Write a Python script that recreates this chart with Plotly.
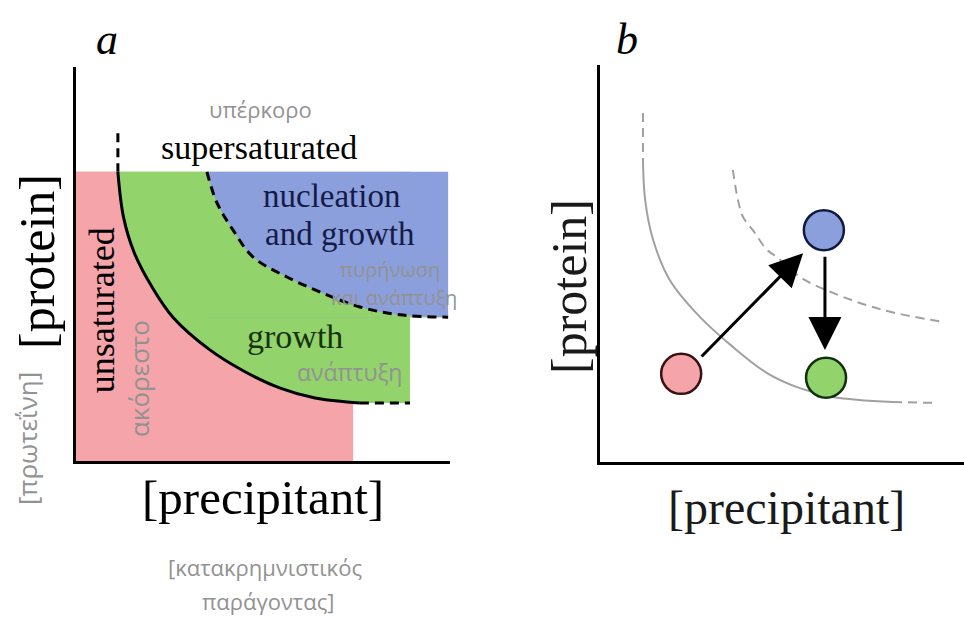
import plotly.graph_objects as go

# ---------------- Panel a data (arbitrary concentration units 0-100) ----------------
unsat_right = 74.1          # right edge of the unsaturated (pink) block
region_top = 73.4           # top of the coloured regions
growth_right = 89.3         # right edge of the growth (green) block
nuc_right = 99.5            # right edge of the nucleation (blue) block

# solubility curve (solid)
sol_x = [11.2, 12.7, 15.6, 20.3, 25.9, 35.8, 45.3, 54.6, 63.9, 72.5, 75.9]
sol_y = [73.4, 61.9, 52.8, 44.2, 36.5, 28.2, 22.6, 18.5, 16.0, 15.0, 14.7]
sol_top_x = [11.2, 11.2]
sol_top_y = [83.2, 73.4]
sol_end_x = [75.9, 89.3]
sol_end_y = [14.7, 14.7]

# nucleation boundary (dashed)
nuc_x = [35.0, 37.7, 42.0, 47.3, 56.4, 66.0, 75.9, 86.6, 99.5]
nuc_y = [73.4, 65.5, 58.6, 51.8, 46.7, 42.6, 39.1, 37.1, 36.5]

# ---------------- Panel b data ----------------
b_sol_x = [11.8, 12.4, 14.6, 19.2, 27.5, 36.5, 45.9, 54.9, 64.0, 80.5]
b_sol_y = [76.6, 66.0, 55.9, 45.8, 36.5, 29.0, 22.4, 18.6, 16.4, 15.1]
b_sol_top_x = [11.8, 11.8]
b_sol_top_y = [87.9, 76.6]
b_sol_end_x = [80.5, 91.2]
b_sol_end_y = [15.1, 14.9]

b_nuc_x = [36.5, 37.9, 39.3, 42.0, 45.9, 48.6, 54.9, 64.0, 77.7, 94.2]
b_nuc_y = [73.6, 66.0, 61.7, 58.4, 53.4, 51.6, 46.6, 42.6, 38.3, 35.3]

state_names = ["unsaturated", "nucleation", "growth"]
state_x = [22.3, 61.5, 62.1]
state_y = [22.2, 58.4, 21.2]

arrow_from_x = [27.5, 61.8]
arrow_from_y = [26.2, 52.1]
arrow_to_x = [55.8, 61.8]
arrow_to_y = [52.6, 28.2]

PINK = "#f5a4aa"
GREEN = "#93d36c"
BLUE = "#8b9fdc"
GREYTXT = "#929292"
SERIF = "Liberation Serif"
SANS = "Open Sans"

fig = go.Figure()


def poly(xs, ys, color, ax="x", ay="y"):
    fig.add_trace(go.Scatter(x=xs, y=ys, fill="toself", fillcolor=color,
                             line=dict(width=0), mode="lines", hoverinfo="skip",
                             xaxis=ax, yaxis=ay))


# Panel a regions
poly([sol_x[0], growth_right, growth_right, sol_x[0]],
     [sol_y[-1], sol_y[-1], region_top, region_top], GREEN)
poly([nuc_x[0], nuc_right, nuc_right, nuc_x[0]],
     [nuc_y[-1], nuc_y[-1], region_top, region_top], BLUE)
fig.add_trace(go.Scatter(x=nuc_x, y=nuc_y, mode="lines", fill="tozerox", fillcolor=GREEN,
                         line=dict(width=0, shape="spline"), hoverinfo="skip",
                         xaxis="x", yaxis="y"))
fig.add_trace(go.Scatter(x=sol_x, y=sol_y, mode="lines", fill="tozerox", fillcolor=PINK,
                         line=dict(width=0, shape="spline"), hoverinfo="skip",
                         xaxis="x", yaxis="y"))
poly([0, unsat_right, unsat_right, 0], [0, 0, sol_y[-1], sol_y[-1]], PINK)

# Panel a boundaries
fig.add_trace(go.Scatter(x=sol_x, y=sol_y, mode="lines",
                         line=dict(color="black", width=3, shape="spline"),
                         xaxis="x", yaxis="y"))
for xs, ys in [(sol_top_x, sol_top_y), (sol_end_x, sol_end_y)]:
    fig.add_trace(go.Scatter(x=xs, y=ys, mode="lines",
                             line=dict(color="black", width=3, dash="9px,6px"),
                             xaxis="x", yaxis="y"))
fig.add_trace(go.Scatter(x=nuc_x, y=nuc_y, mode="lines",
                         line=dict(color="black", width=3, dash="9px,6px", shape="spline"),
                         xaxis="x", yaxis="y"))

# Panel b curves
GREYLINE = "#a0a0a0"
fig.add_trace(go.Scatter(x=b_sol_x, y=b_sol_y, mode="lines",
                         line=dict(color=GREYLINE, width=2, shape="spline"),
                         xaxis="x2", yaxis="y2"))
for xs, ys in [(b_sol_top_x, b_sol_top_y), (b_sol_end_x, b_sol_end_y)]:
    fig.add_trace(go.Scatter(x=xs, y=ys, mode="lines",
                             line=dict(color=GREYLINE, width=2, dash="9px,6px"),
                             xaxis="x2", yaxis="y2"))
fig.add_trace(go.Scatter(x=b_nuc_x, y=b_nuc_y, mode="lines",
                         line=dict(color=GREYLINE, width=2, dash="9px,6px", shape="spline"),
                         xaxis="x2", yaxis="y2"))

fig.add_trace(go.Scatter(x=state_x, y=state_y, mode="markers", text=state_names,
                         marker=dict(size=40, color=[PINK, BLUE, GREEN],
                                     line=dict(width=2.5, color=["#3a1010", "#101a40", "#103010"])),
                         xaxis="x2", yaxis="y2"))

ann = []
for x0, y0, x1, y1 in zip(arrow_from_x, arrow_from_y, arrow_to_x, arrow_to_y):
    ann.append(dict(x=x1, y=y1, ax=x0, ay=y0, xref="x2", yref="y2", axref="x2", ayref="y2",
                    showarrow=True, arrowhead=2, arrowsize=2.2, arrowwidth=3,
                    arrowcolor="black", text="", standoff=0, startstandoff=0))


def t(text, x, y, size, color="black", family=SERIF, ref="a", angle=0, italic=False):
    if ref == "a":
        xr, yr = "x", "y"
    elif ref == "b":
        xr, yr = "x2", "y2"
    else:
        xr, yr = "paper", "paper"
    if italic:
        text = "<i>" + text + "</i>"
    ann.append(dict(text=text, x=x, y=y, xref=xr, yref=yr, showarrow=False,
                    font=dict(size=size, color=color, family=family),
                    textangle=angle, xanchor="center", yanchor="middle"))


# panel a texts (data coords)
t("υπέρκορο", 49.2, 89.4, 22, GREYTXT, SANS)
t("supersaturated", 48.9, 79.5, 34)
t("nucleation", 68.4, 67.3, 33, "#151b48")
t("and growth", 70.6, 57.6, 33, "#151b48")
t("πυρήνωση", 84.0, 48.7, 20, GREYTXT, SANS)
t("και ανάπτυξη", 85.0, 41.4, 20, GREYTXT, SANS)
t("growth", 58.6, 31.7, 34, "#16320f")
t("ανάπτυξη", 73.0, 22.6, 23, GREYTXT, SANS)
t("unsaturated", 7.0, 38.3, 36, "black", SERIF, "a", -90)
t("ακόρεστο", 16.8, 21.0, 26, GREYTXT, SANS, "a", -90)

# outer labels (paper coords)
t("a", 107 / 964, 1 - 40 / 617, 44, ref="p", italic=True)
t("b", 627 / 964, 1 - 40 / 617, 44, ref="p", italic=True)
t("[protein]", 37 / 964, 1 - 262 / 617, 50, ref="p", angle=-90)
t("[πρωτεΐνη]", 27 / 964, 1 - 439 / 617, 26, GREYTXT, SANS, "p", -90)
t("[precipitant]", 263 / 964, 1 - 497 / 617, 49, ref="p")
t("[κατακρημνιστικός", 265 / 964, 1 - 567 / 617, 22, GREYTXT, SANS, "p")
t("παράγοντας]", 268 / 964, 1 - 601 / 617, 22, GREYTXT, SANS, "p")
t("[protein]", 569 / 964, 1 - 287 / 617, 50, "#1a1a1a", ref="p", angle=-90)
t("[precipitant]", 786 / 964, 1 - 507 / 617, 48, "#1a1a1a", ref="p")

axis_common = dict(showline=True, linewidth=3, linecolor="black", showgrid=False,
                   zeroline=False, showticklabels=False, ticks="", range=[0, 100],
                   fixedrange=True)

fig.update_layout(
    width=964, height=617, margin=dict(l=0, r=0, t=0, b=0),
    paper_bgcolor="white", plot_bgcolor="rgba(0,0,0,0)", showlegend=False,
    xaxis=dict(domain=[76 / 964, 450 / 964], anchor="y", **axis_common),
    yaxis=dict(domain=[(617 - 461) / 617, (617 - 67) / 617], anchor="x", **axis_common),
    xaxis2=dict(domain=[600 / 964, 1.0], anchor="y2", **axis_common),
    yaxis2=dict(domain=[(617 - 462) / 617, (617 - 65) / 617], anchor="x2", **axis_common),
    annotations=ann,
)

fig.write_html("out.html")
